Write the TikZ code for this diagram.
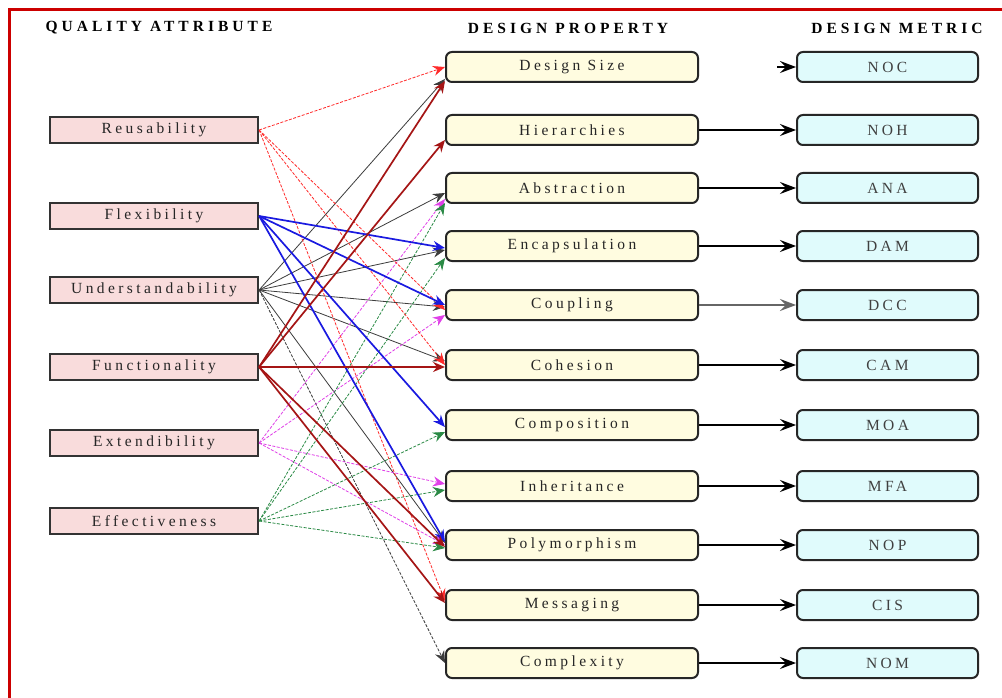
\documentclass[tikz,border=0pt]{standalone}
\usepackage{fontspec}
\setmainfont{Liberation Serif}
\newfontfamily\boxfamily[LetterSpace=22]{Liberation Serif}
\newfontfamily\hdrfamily[LetterSpace=26]{Liberation Serif}
\newcommand\qboxfont{\boxfamily\fontsize{15.5}{17}\selectfont}
\newcommand\qhdrfont{\hdrfamily\bfseries\fontsize{15.5}{17}\selectfont}
\usetikzlibrary{arrows.meta,calc}
\definecolor{qpink}{HTML}{F9DCDC}
\definecolor{qyel}{HTML}{FFFCE0}
\definecolor{qcyan}{HTML}{E0FBFC}
\definecolor{qframe}{HTML}{CC0000}
\definecolor{creu}{HTML}{FF2A2A}
\definecolor{cflx}{HTML}{1A1AE0}
\definecolor{cund}{HTML}{3C3C3C}
\definecolor{cfun}{HTML}{A51515}
\definecolor{cext}{HTML}{E040E8}
\definecolor{ceff}{HTML}{2A8A45}
\begin{document}
\begin{tikzpicture}[x=1pt,y=-1pt,
  attrbox/.style={draw=black!80, line width=2.2pt, fill=qpink, minimum width=208pt, minimum height=26pt, inner sep=0pt, font=\qboxfont, text=black!85},
  propbox/.style={draw=black!85, line width=2pt, fill=qyel, rounded corners=6pt, minimum width=252pt, minimum height=30pt, inner sep=0pt, font=\qboxfont, text=black!85},
  metbox/.style={draw=black!85, line width=2pt, fill=qcyan, rounded corners=6pt, minimum width=181pt, minimum height=30pt, inner sep=0pt, font=\qboxfont, text=black!75},
  hdr/.style={font=\qhdrfont, inner sep=0pt},
  tip/.style={-{Stealth[length=12pt,width=10pt,inset=4pt]}},
  creuse/.style={tip, draw=creu, line width=0.8pt, dash pattern=on 3pt off 1.5pt},
  cflex/.style={tip, draw=cflx, line width=1.7pt},
  cunder/.style={tip, draw=cund, line width=0.8pt},
  cfunc/.style={tip, draw=cfun, line width=1.7pt},
  cexten/.style={tip, draw=cext, line width=0.8pt, dash pattern=on 3pt off 1.5pt},
  ceffec/.style={tip, draw=ceff, line width=0.8pt, dash pattern=on 3pt off 1.5pt},
  metarrow/.style={-{Stealth[length=16pt,width=12pt,inset=6pt]}, draw=black, line width=1.8pt},
  metthin/.style={metarrow, line width=1.1pt}
]
\useasboundingbox (0,0) rectangle (1002,698);
\fill[white] (0,0) rectangle (1002,698);
\draw[qframe, line width=3pt] (9,698) -- (9,10) -- (1002,10);

% headers
\node[hdr] (h1) at (159,28) {QUALITY ATTRIBUTE};
\node[hdr] (h2) at (568,28) {DESIGN PROPERTY};
\node[hdr] (h3) at (897,28) {DESIGN METRIC};

% quality attributes
\node[attrbox] (reu) at (154,130) {Reusability};
\node[attrbox] (flx) at (154,216) {Flexibility};
\node[attrbox] (und) at (154,290) {Understandability};
\node[attrbox] (fun) at (154,367) {Functionality};
\node[attrbox] (ext) at (154,443) {Extendibility};
\node[attrbox] (eff) at (154,521) {Effectiveness};

% design properties
\node[propbox] (ds) at (572,67)  {Design Size};
\node[propbox] (hi) at (572,130) {Hierarchies};
\node[propbox] (ab) at (572,188) {Abstraction};
\node[propbox] (en) at (572,246) {Encapsulation};
\node[propbox] (cp) at (572,305) {Coupling};
\node[propbox] (ch) at (572,365) {Cohesion};
\node[propbox] (co) at (572,425) {Composition};
\node[propbox] (in) at (572,486) {Inheritance};
\node[propbox] (po) at (572,545) {Polymorphism};
\node[propbox] (ms) at (572,605) {Messaging};
\node[propbox] (cx) at (572,663) {Complexity};

% design metrics
\node[metbox] (noc) at (887.5,67)  {NOC};
\node[metbox] (noh) at (887.5,130) {NOH};
\node[metbox] (ana) at (887.5,188) {ANA};
\node[metbox] (dam) at (887.5,246) {DAM};
\node[metbox] (dcc) at (887.5,305) {DCC};
\node[metbox] (cam) at (887.5,365) {CAM};
\node[metbox] (moa) at (887.5,425) {MOA};
\node[metbox] (mfa) at (887.5,486) {MFA};
\node[metbox] (nop) at (887.5,545) {NOP};
\node[metbox] (cis) at (887.5,605) {CIS};
\node[metbox] (nom) at (887.5,663) {NOM};

% property -> metric
\coordinate (nocin) at (777,67);
\draw[metarrow] (nocin) -- (noc.west);
\draw[metarrow] (hi.east) -- (noh.west);
\draw[metthin]  (ab.east) -- (ana.west);
\draw[metarrow] (en.east) -- (dam.west);
\draw[metarrow, draw=black!60] (cp.east) -- (dcc.west);
\draw[metarrow] (ch.east) -- (cam.west);
\draw[metthin]  (co.east) -- (moa.west);
\draw[metarrow] (in.east) -- (mfa.west);
\draw[metarrow] (po.east) -- (nop.west);
\draw[metthin]  (ms.east) -- (cis.west);
\draw[metthin]  (cx.east) -- (nom.west);

% Understandability
\draw[cunder] (und.east) -- ($(ds.west)+(0,12)$);
\draw[cunder] (und.east) -- ($(ab.west)+(0,5)$);
\draw[cunder] (und.east) -- ($(en.west)+(0,4)$);
\draw[cunder] (und.east) -- ($(cp.west)+(0,2)$);
\draw[cunder] (und.east) -- ($(ch.west)+(0,-4)$);
\draw[cunder] (und.east) -- ($(po.west)+(0,-2)$);
\draw[cunder, dash pattern=on 3pt off 1.5pt] (und.east) -- (cx.west);

% Extendibility
\draw[cexten] (ext.east) -- ($(ab.west)+(0,11)$);
\draw[cexten] (ext.east) -- ($(cp.west)+(0,10)$);
\draw[cexten] (ext.east) -- ($(in.west)+(0,-2)$);
\draw[cexten] (ext.east) -- ($(po.west)+(0,0)$);

% Effectiveness
\draw[ceffec] (eff.east) -- ($(ab.west)+(0,15)$);
\draw[ceffec] (eff.east) -- ($(en.west)+(0,12)$);
\draw[ceffec] (eff.east) -- ($(co.west)+(0,7)$);
\draw[ceffec] (eff.east) -- ($(in.west)+(0,4)$);
\draw[ceffec] (eff.east) -- ($(po.west)+(0,3)$);

% Reusability
\draw[creuse] (reu.east) -- ($(ds.west)+(0,0)$);
\draw[creuse] (reu.east) -- ($(cp.west)+(0,5)$);
\draw[creuse] (reu.east) -- ($(ch.west)+(0,0)$);
\draw[creuse] (reu.east) -- ($(ms.west)+(0,-4)$);

% Flexibility
\draw[cflex] (flx.east) -- ($(en.west)+(0,2)$);
\draw[cflex] (flx.east) -- ($(cp.west)+(0,0)$);
\draw[cflex] (flx.east) -- ($(co.west)+(0,2)$);
\draw[cflex] (flx.east) -- ($(po.west)+(0,-3)$);

% Functionality
\draw[cfunc] (fun.east) -- ($(ds.west)+(0,14)$);
\draw[cfunc] (fun.east) -- ($(hi.west)+(0,10)$);
\draw[cfunc] (fun.east) -- ($(ch.west)+(0,2)$);
\draw[cfunc] (fun.east) -- ($(po.west)+(0,2)$);
\draw[cfunc] (fun.east) -- ($(ms.west)+(0,-2)$);
\end{tikzpicture}
\end{document}
